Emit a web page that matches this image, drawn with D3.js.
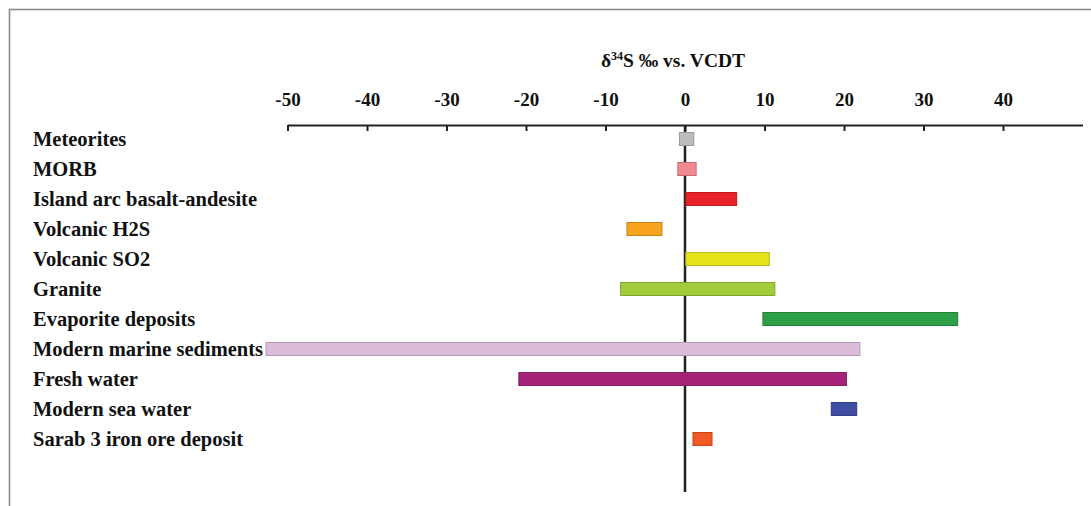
<!DOCTYPE html>
<html>
<head>
<meta charset="utf-8">
<script src="https://cdn.jsdelivr.net/npm/d3@7"></script>
<style>
  html, body { margin: 0; padding: 0; background: #fff; }
  svg { display: block; }
  text { font-family: "Liberation Serif", "Times New Roman", serif; font-weight: bold; fill: #111; }
</style>
</head>
<body>
<svg id="chart" width="1091" height="506"></svg>
<script>
const categories = [
  "Meteorites", "MORB", "Island arc basalt-andesite", "Volcanic H2S", "Volcanic SO2",
  "Granite", "Evaporite deposits", "Modern marine sediments", "Fresh water",
  "Modern sea water", "Sarab 3 iron ore deposit"
];
const minValues = [-0.7, -0.9, 0.1, -7.3, 0.1, -8.1, 9.8, -52.7, -20.9, 18.4, 1.0];
const maxValues = [1.1, 1.4, 6.5, -2.9, 10.6, 11.3, 34.3, 22.0, 20.3, 21.6, 3.4];
const colors = ["#bcbcbc", "#f08a90", "#e82229", "#f8a31d", "#e6e31b", "#a2cd3a",
                "#2c9f47", "#dcbcdb", "#a6237a", "#3f4da2", "#f15a24"];
const tickValues = [-50, -40, -30, -20, -10, 0, 10, 20, 30, 40];
const xDomain = [-50, 50];

const svg = d3.select("#chart");

// frame
svg.append("rect")
  .attr("x", 9.5).attr("y", 9.5)
  .attr("width", 1200).attr("height", 600)
  .attr("fill", "none").attr("stroke", "#8c8c8c").attr("stroke-width", 1.6);

const x = d3.scaleLinear().domain(xDomain).range([287.5, 1082.5]);
const y = d3.scalePoint().domain(categories).range([139, 439]);
const axisY = 125;
const barH = 13;

// axis on top
const axis = d3.axisTop(x).tickValues(tickValues).tickSize(-6).tickSizeOuter(0).tickPadding(19)
  .tickFormat(d => String(d));
const gAxis = svg.append("g").attr("transform", `translate(0,${axisY})`).call(axis);
gAxis.select(".domain").attr("stroke", "#222").attr("stroke-width", 2);
gAxis.selectAll(".tick line").attr("stroke", "#222").attr("stroke-width", 2);
gAxis.selectAll(".tick text")
  .attr("font-family", "Liberation Serif, serif").attr("font-weight", "bold")
  .attr("font-size", 19).attr("fill", "#111");

// title
const title = svg.append("text")
  .attr("x", 673).attr("y", 67)
  .attr("text-anchor", "middle").attr("font-size", 19.5);
title.append("tspan").text("δ");
title.append("tspan").attr("font-size", 12).attr("dy", -7).text("34");
title.append("tspan").attr("dy", 7).text("S ‰ vs. VCDT");

// category labels
svg.append("g").selectAll("text").data(categories).join("text")
  .attr("x", 33).attr("y", d => y(d)).attr("dy", "0.35em")
  .attr("font-size", 20.5).text(d => d);

// zero line
svg.append("line")
  .attr("x1", x(0)).attr("x2", x(0))
  .attr("y1", axisY).attr("y2", 492)
  .attr("stroke", "#222").attr("stroke-width", 2.5);

// bars
const rows = categories.map((c, i) => ({ c, lo: minValues[i], hi: maxValues[i], col: colors[i] }));
svg.append("g").selectAll("rect").data(rows).join("rect")
  .attr("x", d => x(d.lo))
  .attr("y", d => y(d.c) - barH / 2)
  .attr("width", d => x(d.hi) - x(d.lo))
  .attr("height", barH)
  .attr("fill", d => d.col)
  .attr("stroke", d => d3.color(d.col).darker(0.6))
  .attr("stroke-width", 1);
</script>
</body>
</html>
